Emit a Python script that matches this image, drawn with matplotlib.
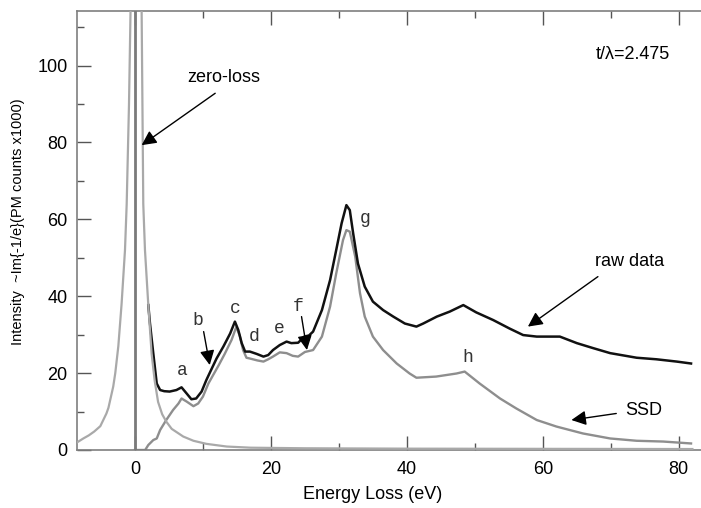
import numpy as np
import matplotlib
matplotlib.use("Agg")
import matplotlib.pyplot as plt
from matplotlib.ticker import MultipleLocator

plt.rcParams["font.family"] = ["Liberation Sans", "DejaVu Sans"]

# ── spectra (energy in eV, intensity in PM counts x1000) ─────────────────────
zl_energy = [-8.5, -7.6, -6.8, -6.0, -5.1, -4.2, -3.9, -3.2, -2.9, -2.45,
             -1.97, -1.47, -1.22, -0.88, -0.6, 0.2, 0.95, 1.22, 1.47, 1.96,
             2.45, 2.9, 3.4, 4.0, 4.6, 5.4, 7.1, 8.6, 10.5, 13.5, 17.0, 25.0,
             40.0, 60.0, 82.0]
zl_counts = [2.0, 3.0, 3.8, 4.8, 6.2, 9.5, 11.0, 16.5, 20.0, 27.0,
             38.0, 52.0, 64.0, 90.0, 120.0, 400.0, 120.0, 64.0, 52.0, 37.7,
             25.0, 18.0, 12.5, 9.3, 7.4, 5.5, 3.5, 2.4, 1.6, 0.9, 0.6, 0.45,
             0.35, 0.3, 0.25]

raw_energy = [1.96, 2.2, 2.7, 3.2, 3.7, 4.3, 5.1, 6.1, 6.85,
              7.6, 8.3, 9.0, 9.8, 10.5, 11.3, 12.0, 13.0, 14.0, 14.7, 15.2,
              15.7, 16.2, 16.9, 17.9, 18.9, 19.6, 20.3, 21.3, 22.3, 23.0, 24.0,
              24.9, 25.6, 26.2, 27.5, 28.7, 29.6, 30.4, 31.1, 31.6, 32.1, 32.8,
              33.8, 35.0, 36.5, 38.0, 39.7, 41.4, 42.4, 44.4, 46.3, 48.3, 50.2,
              52.7, 55.1, 57.1, 59.1, 62.5, 65.0, 67.4, 69.9, 73.8, 76.7, 79.7,
              81.8]
raw_counts = [37.7, 33.0, 25.0, 17.3, 15.6, 15.3, 15.2, 15.6,
              16.3, 14.7, 13.2, 13.4, 15.2, 18.2, 21.2, 23.8, 26.9, 30.3, 33.4,
              31.2, 27.8, 25.6, 25.6, 25.0, 24.3, 24.7, 26.0, 27.3, 28.2, 27.8,
              27.9, 29.5, 29.8, 30.8, 36.4, 44.2, 52.0, 59.0, 63.7, 62.4, 56.3,
              48.5, 42.5, 38.6, 36.4, 34.7, 32.9, 32.1, 32.9, 34.7, 36.0, 37.7,
              35.8, 33.8, 31.6, 29.9, 29.5, 29.5, 27.8, 26.5, 25.2, 24.0, 23.6,
              23.0, 22.5]

ssd_energy = [0.0, 1.5, 1.96, 2.7, 3.2, 3.7, 4.6, 5.6, 6.4, 6.85, 7.6, 8.6,
              9.3, 10.0, 10.8, 11.5, 12.3, 13.2, 14.2, 14.9, 15.4, 15.9, 16.4,
              16.9, 18.0, 18.9, 19.6, 20.3, 21.3, 22.3, 23.2, 24.0, 25.0, 26.2,
              27.5, 28.7, 29.6, 30.6, 31.1, 31.6, 32.4, 33.1, 33.8, 35.0, 36.5,
              38.5, 40.4, 41.4, 44.3, 47.3, 48.5, 50.7, 53.7, 56.1, 59.1, 62.0,
              65.9, 69.9, 73.8, 77.7, 81.8]
ssd_counts = [0.0, 0.0, 1.3, 2.6, 3.0, 5.2, 7.8, 10.4, 12.1, 13.4, 12.6, 11.4,
              12.1, 13.9, 17.3, 19.5, 22.0, 25.0, 28.6, 32.0, 29.8, 26.0, 24.0,
              23.8, 23.3, 23.0, 23.6, 24.3, 25.4, 25.2, 24.5, 24.3, 25.5, 26.0,
              29.5, 37.3, 45.9, 54.6, 57.2, 56.8, 50.3, 40.8, 34.7, 29.5, 26.0,
              22.5, 19.9, 18.8, 19.1, 19.9, 20.4, 17.3, 13.4, 10.8, 7.8, 6.1,
              4.3, 3.0, 2.4, 2.2, 1.7]

# peak labels (letter, energy, intensity)
peak_names = ["a", "b", "c", "d", "e", "f", "g", "h"]
peak_x = [6.9, 9.3, 14.7, 17.6, 21.2, 24.0, 33.8, 49.0]
peak_y = [20.8, 33.8, 36.8, 29.4, 31.6, 37.3, 60.3, 24.1]

# ── figure ───────────────────────────────────────────────────────────────────
fig = plt.figure(figsize=(7.01, 5.08), dpi=100)
ax = fig.add_axes([77.2 / 701, 58 / 508, 628.8 / 701, 439 / 508])

ax.plot(raw_energy, raw_counts, color="#111111", lw=1.8, zorder=3,
        solid_joinstyle="round")
ax.plot(ssd_energy, ssd_counts, color="#8e8e8e", lw=1.7, zorder=2,
        solid_joinstyle="round")
ax.plot(zl_energy, zl_counts, color="#a9a9a9", lw=1.6, zorder=4,
        solid_joinstyle="round")
ax.axvline(0, color="#7a7a7a", lw=2.0, zorder=5)

ax.set_xlim(-8.5, 84)
ax.set_ylim(0, 114.2)

for s in ax.spines.values():
    s.set_color("#7f7f7f")
    s.set_linewidth(1.2)

ax.xaxis.set_major_locator(MultipleLocator(20))
ax.xaxis.set_minor_locator(MultipleLocator(10))
ax.yaxis.set_major_locator(MultipleLocator(20))
ax.yaxis.set_minor_locator(MultipleLocator(10))
ax.tick_params(which="both", direction="in", top=True, right=False,
               color="#555555", width=1.0, labelsize=13)
ax.tick_params(which="major", length=10)
ax.tick_params(which="minor", length=5)
ax.tick_params(axis="x", pad=8)
ax.tick_params(axis="y", pad=7)

ax.set_xlabel("Energy Loss (eV)", fontsize=13)
ax.xaxis.set_label_coords(0.47, -0.1025)
ax.xaxis.label.set_va("center")
ax.set_ylabel("Intensity  ~Im{-1/e}(PM counts x1000)", fontsize=10.5)
ax.yaxis.set_label_coords(-0.094, 0.52)
ax.yaxis.label.set_va("center")

for name, x, y in zip(peak_names, peak_x, peak_y):
    ax.text(x, y, name, ha="center", va="center", fontsize=13,
            family="Liberation Mono", color="#333333")

ax.text(73.3, 102.9, "t/\u03bb=2.475", ha="center", va="center", fontsize=13)

arrow = dict(arrowstyle="-|>", color="black", lw=1.0, mutation_scale=22,
             shrinkA=0, shrinkB=0)
for label, tip, tail, txt in [
    ("zero-loss", (0.98, 79.3), (11.8, 92.8), (13.0, 96.8)),
    ("raw data", (57.8, 32.1), (68.1, 45.1), (72.8, 49.0)),
    ("SSD", (64.2, 7.8), (70.8, 9.5), (74.8, 10.4)),
]:
    ax.annotate("", xy=tip, xytext=tail, arrowprops=arrow, zorder=6)
    ax.text(txt[0], txt[1], label, ha="center", va="center", fontsize=13)

for tip, tail in [((11.0, 22.1), (10.1, 30.8)), ((25.3, 26.0), (24.5, 34.7))]:
    ax.annotate("", xy=tip, xytext=tail, arrowprops=arrow, zorder=6)

fig.savefig("out.png", dpi=100)
